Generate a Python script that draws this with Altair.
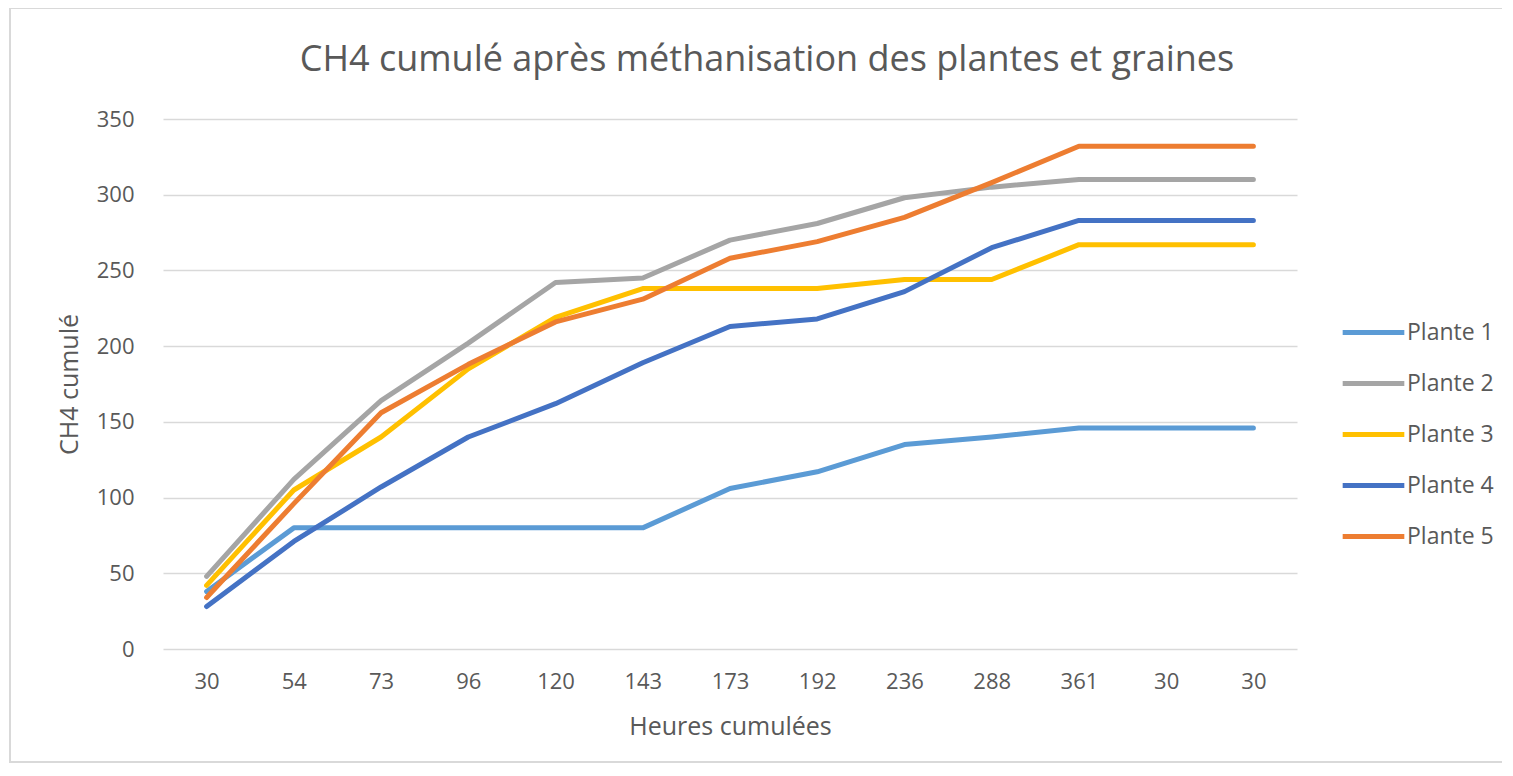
import altair as alt
import pandas as pd

chart_title = "CH4 cumulé après méthanisation des plantes et graines"
hour_labels = ["30", "54", "73", "96", "120", "143", "173", "192", "236", "288", "361", "30", "30"]
series_names = ["Plante 1", "Plante 2", "Plante 3", "Plante 4", "Plante 5"]
plante1 = [38, 80, 80, 80, 80, 80, 106, 117, 135, 140, 146, 146, 146]
plante2 = [48, 112, 164, 202, 242, 245, 270, 281, 298, 305, 310, 310, 310]
plante3 = [42, 105, 140, 185, 219, 238, 238, 238, 244, 244, 267, 267, 267]
plante4 = [28, 71, 107, 140, 162, 189, 213, 218, 236, 265, 283, 283, 283]
plante5 = [34, 96, 156, 188, 216, 231, 258, 269, 285, 308, 332, 332, 332]
colors = ["#5B9BD5", "#A5A5A5", "#FFC000", "#4472C4", "#ED7D31"]

rows = []
for name, vals in zip(series_names, [plante1, plante2, plante3, plante4, plante5]):
    for i, v in enumerate(vals):
        rows.append({"idx": i, "serie": name, "val": v})
df = pd.DataFrame(rows)

label_js = "[" + ",".join("'" + s + "'" for s in hour_labels) + "][datum.value]"

FONT = "Open Sans"
GREY = "#595959"

lines = alt.Chart(df).mark_line(strokeWidth=5, strokeCap="round", strokeJoin="round").encode(
    x=alt.X("idx:O", title="Heures cumulées",
            axis=alt.Axis(labelExpr=label_js, labelAngle=0, ticks=False, domain=False,
                          grid=False, labelPadding=22, titlePadding=22,
                          labelFontSize=22, titleFontSize=25, labelColor=GREY, titleColor=GREY,
                          labelFont=FONT, titleFont=FONT, titleFontWeight="normal")),
    y=alt.Y("val:Q", title="CH4 cumulé",
            scale=alt.Scale(domain=[0, 350], nice=False),
            axis=alt.Axis(values=[0, 50, 100, 150, 200, 250, 300, 350], ticks=False, domain=False,
                          gridColor="#D9D9D9", gridWidth=1.5, labelPadding=29, titlePadding=14,
                          labelFontSize=22, titleFontSize=25, labelColor=GREY, titleColor=GREY,
                          labelFont=FONT, titleFont=FONT, titleFontWeight="normal")),
    color=alt.Color("serie:N", title=None,
                    scale=alt.Scale(domain=series_names, range=colors),
                    legend=alt.Legend(orient="none", legendX=1177, legendY=180,
                                      symbolType="stroke", symbolSize=3800, symbolStrokeWidth=5,
                                      labelFontSize=23, labelColor=GREY, labelFont=FONT,
                                      rowPadding=5, labelOffset=0)),
)

frame = alt.Chart(df).mark_rect(filled=False, stroke="#D9D9D9", strokeWidth=1.5, clip=False).encode(
    x=alt.value(-153), x2=alt.value(1134 + 208), y=alt.value(-111), y2=alt.value(530 + 113)
)

title_text = alt.Chart(pd.DataFrame({"t": [chart_title]})).mark_text(
    font=FONT, fontSize=36, color=GREY, align="center", baseline="middle"
).encode(text="t:N", x=alt.value(604), y=alt.value(-59))

chart = alt.layer(frame, lines, title_text).properties(
    width=1134, height=530,
    background="white",
    autosize=alt.AutoSizeParams(type="none"),
    padding={"left": 155, "top": 111, "right": 205, "bottom": 115},
).configure_view(stroke=None)

chart.save("out.html", embed_options={"renderer": "svg", "actions": False})
